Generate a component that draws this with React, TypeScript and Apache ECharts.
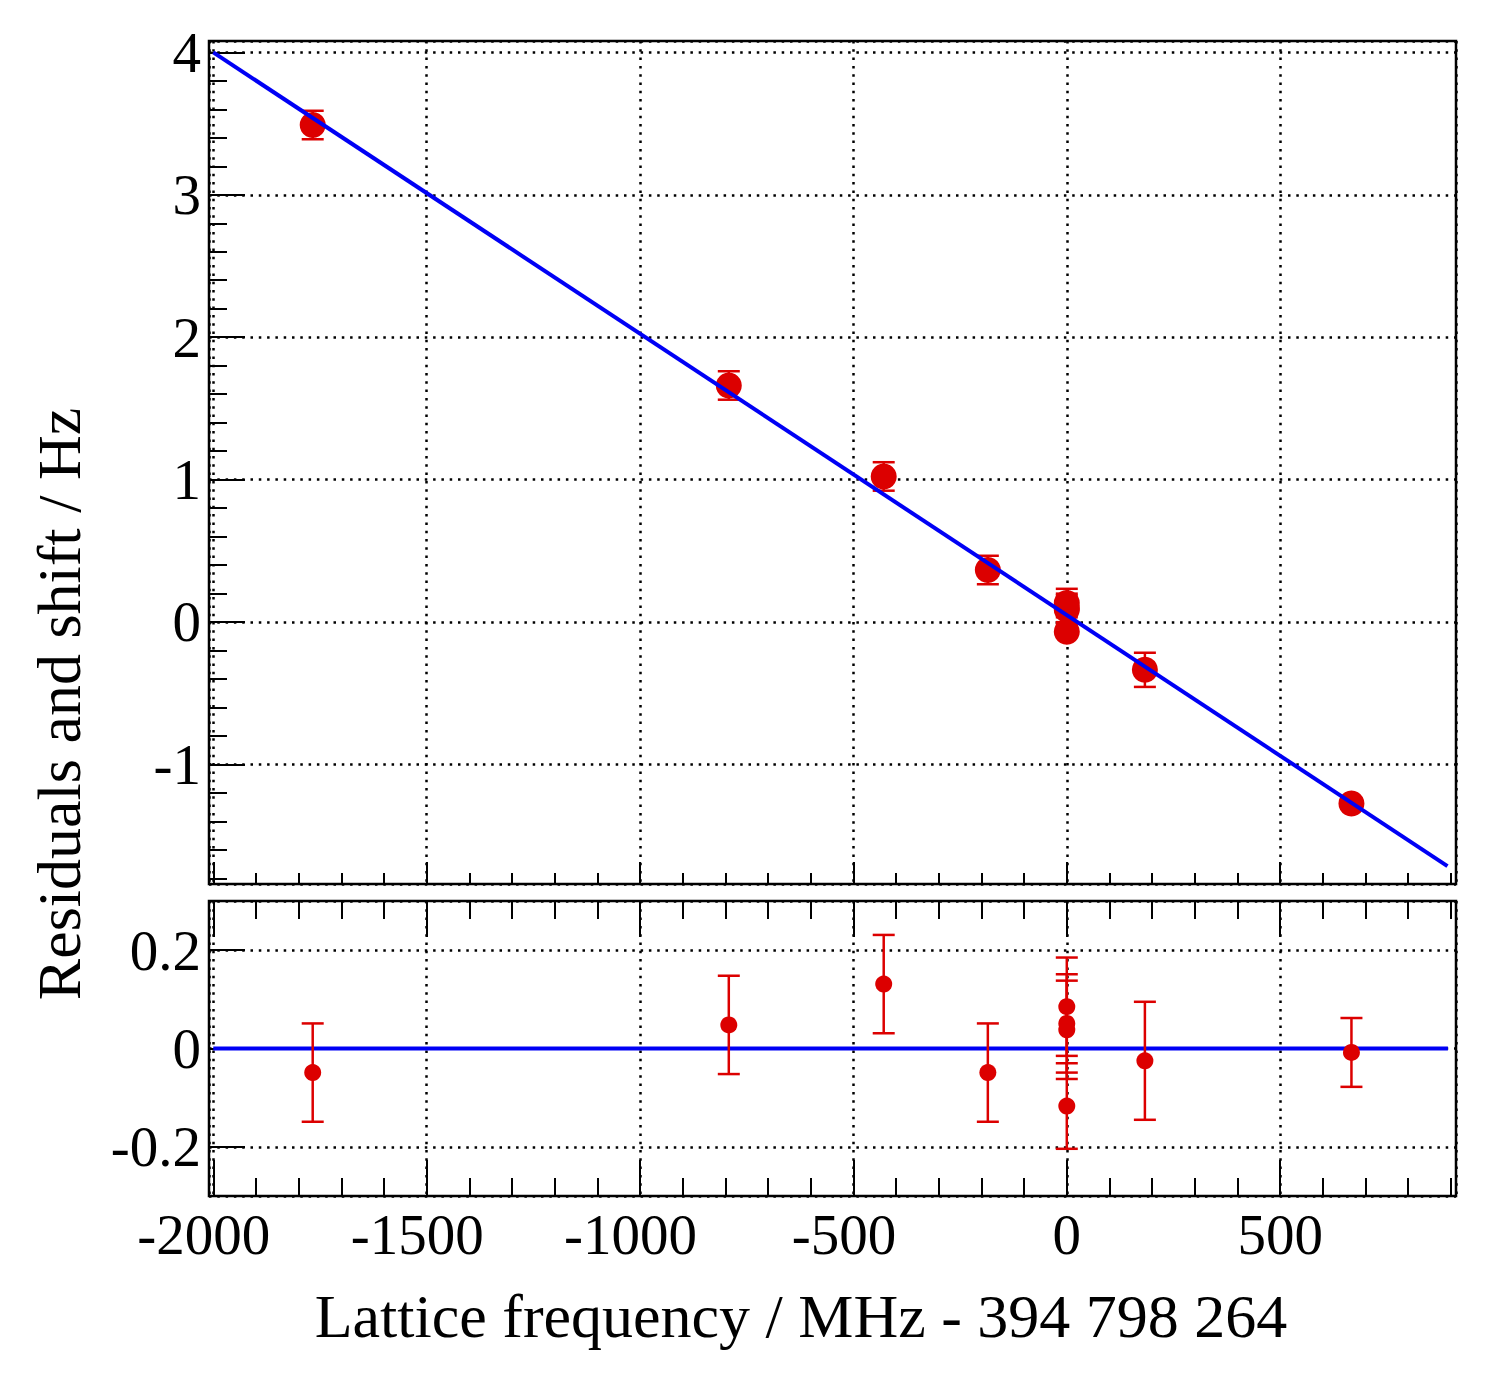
import React, { useEffect, useRef } from "react";
import * as echarts from "echarts";

// ---- data ----
const shiftX = [-1767, -792, -429, -185, 0, 0, 0, 0, 183, 667];
const shiftY = [3.49, 1.661, 1.022, 0.365, 0.133, 0.099, 0.086, -0.069, -0.336, -1.274];
const residualY = [-0.049, 0.048, 0.131, -0.049, 0.085, 0.051, 0.038, -0.117, -0.025, -0.008];
const errorY = [0.1, 0.1, 0.1, 0.1, 0.1, 0.1, 0.1, 0.087, 0.12, 0.07];
const fitLine = [
  [-2000, 4.0],
  [892, -1.714],
];
const zeroLine = [
  [-2000, 0],
  [893, 0],
];
const xTickValues = [-2000, -1500, -1000, -500, 0, 500];
const yTopTickValues = [-1, 0, 1, 2, 3, 4];
const yBottomTickValues = [-0.2, 0, 0.2];
const xTitle = "Lattice frequency / MHz - 394 798 264";
const yTitle = "Residuals and shift / Hz";

const X_MIN = -2010;
const X_MAX = 912;
const YT_MIN = -1.84;
const YT_MAX = 4.08;
const YB_MIN = -0.3;
const YB_MAX = 0.3;

const RED = "#dc0000";
const BLUE = "#0000f5";
const FONT = '"Liberation Serif", "Times New Roman", serif';

const near = (v: number, arr: number[]) => arr.some((a) => Math.abs(a - v) < 1e-6);

function makeErrorRender(radius: number) {
  return (params: any, api: any) => {
    const x = api.value(0);
    const y = api.value(1);
    const e = api.value(2);
    const c = api.coord([x, y]);
    const t = api.coord([x, y + e]);
    const b = api.coord([x, y - e]);
    if (c[1] - t[1] <= radius) return { type: "group", children: [] };
    const hw = 11;
    const st = { stroke: RED, lineWidth: 2.5 };
    return {
      type: "group",
      children: [
        { type: "line", shape: { x1: c[0], y1: t[1], x2: c[0], y2: b[1] }, style: st },
        { type: "line", shape: { x1: c[0] - hw, y1: t[1], x2: c[0] + hw, y2: t[1] }, style: st },
        { type: "line", shape: { x1: c[0] - hw, y1: b[1], x2: c[0] + hw, y2: b[1] }, style: st },
      ],
    };
  };
}

const dotted = { color: "#000", width: 2.5, type: [2.5, 5.8] as any };
const tickStyle = { color: "#000", width: 2 };
const noLine = { show: false, onZero: false };

export default function App() {
  const ref = useRef<HTMLDivElement>(null);
  useEffect(() => {
    if (!ref.current) return;
    const chart = echarts.init(ref.current, undefined, { renderer: "svg" });
    const topData = shiftX.map((x, i) => [x, shiftY[i], errorY[i]]);
    const botData = shiftX.map((x, i) => [x, residualY[i], errorY[i]]);

    const labelStyle = { fontFamily: FONT, fontSize: 57, color: "#000" };

    const option: any = {
      animation: false,
      backgroundColor: "#fff",
      grid: [
        { left: 209, top: 41, width: 1247, height: 843, show: true, borderColor: "#000", borderWidth: 2.5, backgroundColor: "transparent" },
        { left: 209, top: 901, width: 1247, height: 295, show: true, borderColor: "#000", borderWidth: 2.5, backgroundColor: "transparent" },
      ],
      xAxis: [
        {
          type: "value", gridIndex: 0, position: "bottom", min: X_MIN, max: X_MAX,
          minInterval: 500, maxInterval: 500,
          axisLine: noLine,
          axisLabel: { show: false },
          axisTick: { show: true, inside: true, length: 22, lineStyle: tickStyle },
          minorTick: { show: true, splitNumber: 5, length: 11, lineStyle: tickStyle },
          splitLine: { show: true, lineStyle: dotted },
        },
        {
          type: "value", gridIndex: 1, position: "bottom", min: X_MIN, max: X_MAX,
          minInterval: 500, maxInterval: 500,
          axisLine: noLine,
          axisLabel: {
            show: true, margin: 10, showMinLabel: false, showMaxLabel: false, ...labelStyle,
            rich: { p: { width: 19, fontFamily: FONT, fontSize: 57 } },
            formatter: (v: number) => {
              if (!near(v, xTickValues)) return "";
              const s = String(Math.round(v));
              return v < 0 ? s + "{p| }" : s;
            },
          },
          axisTick: { show: true, inside: true, length: 36, lineStyle: tickStyle },
          minorTick: { show: true, splitNumber: 5, length: 18, lineStyle: tickStyle },
          splitLine: { show: true, lineStyle: dotted },
        },
        {
          type: "value", gridIndex: 1, position: "top", min: X_MIN, max: X_MAX,
          minInterval: 500, maxInterval: 500,
          axisLine: noLine,
          axisLabel: { show: false },
          axisTick: { show: true, inside: true, length: 36, lineStyle: tickStyle },
          minorTick: { show: true, splitNumber: 5, length: 18, lineStyle: tickStyle },
          splitLine: { show: false },
        },
      ],
      yAxis: [
        {
          type: "value", gridIndex: 0, position: "left", min: YT_MIN, max: YT_MAX,
          minInterval: 1, maxInterval: 1,
          axisLine: noLine,
          axisLabel: {
            show: true, margin: 8, showMinLabel: false, showMaxLabel: false, ...labelStyle,
            formatter: (v: number) => (near(v, yTopTickValues) ? String(Math.round(v)) : ""),
          },
          axisTick: { show: true, inside: true, length: 36, lineStyle: tickStyle },
          minorTick: { show: true, splitNumber: 5, length: 18, lineStyle: tickStyle },
          splitLine: { show: true, lineStyle: dotted },
        },
        {
          type: "value", gridIndex: 1, position: "left", min: YB_MIN, max: YB_MAX,
          minInterval: 0.2, maxInterval: 0.2,
          axisLine: noLine,
          axisLabel: {
            show: true, margin: 8, showMinLabel: false, showMaxLabel: false, ...labelStyle,
            formatter: (v: number) => (near(v, yBottomTickValues) ? String(Math.round(v * 10) / 10) : ""),
          },
          axisTick: { show: true, inside: true, length: 36, lineStyle: tickStyle },
          minorTick: { show: false },
          splitLine: { show: true, lineStyle: dotted },
        },
      ],
      series: [
        {
          type: "custom", xAxisIndex: 0, yAxisIndex: 0, z: 2,
          renderItem: makeErrorRender(13),
          encode: { x: 0, y: 1 },
          data: topData,
        },
        {
          type: "scatter", xAxisIndex: 0, yAxisIndex: 0, z: 3,
          symbol: "circle", symbolSize: 26,
          itemStyle: { color: RED, opacity: 1 },
          data: topData.map((d) => [d[0], d[1]]),
        },
        {
          type: "line", xAxisIndex: 0, yAxisIndex: 0, z: 4,
          showSymbol: false, symbol: "none",
          lineStyle: { color: BLUE, width: 4 },
          data: fitLine,
        },
        {
          type: "line", xAxisIndex: 1, yAxisIndex: 1, z: 2,
          showSymbol: false, symbol: "none",
          lineStyle: { color: BLUE, width: 4 },
          data: zeroLine,
        },
        {
          type: "custom", xAxisIndex: 1, yAxisIndex: 1, z: 3,
          renderItem: makeErrorRender(8.5),
          encode: { x: 0, y: 1 },
          data: botData,
        },
        {
          type: "scatter", xAxisIndex: 1, yAxisIndex: 1, z: 4,
          symbol: "circle", symbolSize: 17,
          itemStyle: { color: RED, opacity: 1 },
          data: botData.map((d) => [d[0], d[1]]),
        },
      ],
      graphic: [
        {
          type: "text", x: 801, y: 1316,
          style: {
            text: xTitle, fontFamily: FONT, fontSize: 62, fill: "#000",
            align: "center", verticalAlign: "middle", textAlign: "center", textVerticalAlign: "middle",
          },
        },
        {
          type: "text", x: 59, y: 704, rotation: Math.PI / 2,
          style: {
            text: yTitle, fontFamily: FONT, fontSize: 62, fill: "#000",
            align: "center", verticalAlign: "middle", textAlign: "center", textVerticalAlign: "middle",
          },
        },
      ],
    };
    chart.setOption(option);
    return () => chart.dispose();
  }, []);
  return (
    <div
      ref={ref}
      style={{ position: "absolute", left: 0, top: 0, width: 1503, height: 1373, background: "#fff" }}
    />
  );
}
